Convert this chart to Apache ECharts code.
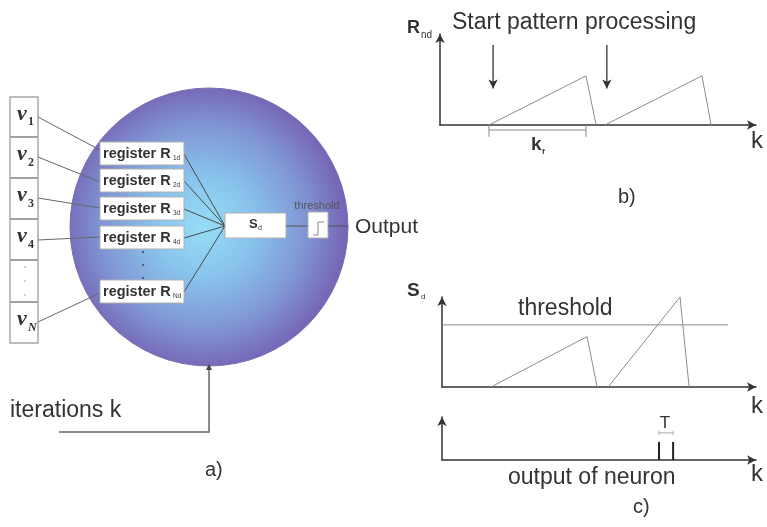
<!DOCTYPE html>
<html><head><meta charset="utf-8">
<script src="https://cdn.jsdelivr.net/npm/echarts@6/dist/echarts.min.js"></script>
<style>html,body{margin:0;padding:0;background:#fff}#c{width:767px;height:527px}</style>
</head><body><div id="c"></div>
<script>
// ---- data ----
const vSubs = ['1', '2', '3', '4', '', 'N'];
const regSubs = ['1d', '2d', '3d', '4d', 'Nd'];
// panel b) register value R_nd over iterations k
const bSawA = [[15.5, 0], [46.2, 5.4], [49.4, 0]];
const bSawB = [[52.2, 0], [82.9, 5.4], [85.8, 0]];
const bStartArrowsK = [16.8, 52.8];
const bArrowFromTo = [8.8, 4.0];
const kfRange = [15.5, 46.2];
// panel c) sum S_d over iterations k
const cSawA = [[15.6, 0], [46.2, 5.6], [49.4, 0]];
const cSawB = [[52.9, 0], [75.8, 10], [78.7, 0]];
const thresholdLevel = 6.9;
const thresholdEndK = 91.1;
// output of neuron
const pulsesK = [69.1, 73.6];
const pulseHeight = 4.2;
const tBracketLevel = 6.3;

const FONT = 'Liberation Sans, Arial, sans-serif';
const TXT = '#333';
const chart = echarts.init(document.getElementById('c'));

function txt(x, y, text, size, o) {
  o = o || {};
  return { type: 'text', x: x, y: y, z: 20, style: {
    text: text, fontSize: size, fontFamily: o.family || FONT, fontWeight: o.weight || 'normal',
    fontStyle: o.style || 'normal', fill: o.fill || TXT, align: o.align || 'left', verticalAlign: 'middle' } };
}
function line(pts, o) {
  o = o || {};
  return { type: 'polyline', z: o.z || 10, shape: { points: pts }, style: { stroke: o.stroke || '#555', lineWidth: o.w || 1, fill: null } };
}
function rect(x, y, w, h, o) {
  o = o || {};
  return { type: 'rect', z: 10, shape: { x: x, y: y, width: w, height: h }, style: { fill: '#fff', stroke: o.stroke || '#a0a0a0', lineWidth: o.w || 1 } };
}

const g = [];
// neuron circle
g.push({ type: 'circle', z: 1, shape: { cx: 209, cy: 227, r: 139 }, style: {
  fill: { type: 'radial', x: 0.48, y: 0.5, r: 0.52, colorStops: [
    { offset: 0, color: '#97ddf6' }, { offset: 0.35, color: '#88c3ec' },
    { offset: 0.7, color: '#8096d4' }, { offset: 1, color: '#7563b4' }] },
  stroke: '#7a6cb0', lineWidth: 1 } });
// input column
g.push(rect(10, 97, 28, 246, { stroke: '#a8a8a8', w: 1.5 }));
const cellTops = [97, 137, 178, 219, 260, 302, 343];
for (let i = 1; i < 6; i++) g.push(line([[10, cellTops[i]], [38, cellTops[i]]], { stroke: '#a0a0a0', w: 2, z: 11 }));
vSubs.forEach((s, i) => {
  const cy = (cellTops[i] + cellTops[i + 1]) / 2;
  if (s === '') {
    [-14, 0, 14].forEach(d => g.push({ type: 'circle', z: 12, shape: { cx: 25, cy: cy + d, r: 0.8 }, style: { fill: '#999' } }));
  } else {
    g.push(txt(17, cy - 3, 'v', 22, { family: 'Liberation Serif, Times New Roman, serif', style: 'italic', weight: 'bold' }));
    g.push(txt(28, cy + 5, s, 12, { family: 'Liberation Serif, Times New Roman, serif', style: s === 'N' ? 'italic' : 'normal', weight: 'bold' }));
  }
});
// registers
const regTops = [142, 169, 197, 226, 280];
const vLineY = [117, 157, 198, 240, 322];
const regInY = [150, 182, 208, 237, 293];
regTops.forEach((t, i) => {
  g.push(line([[38, vLineY[i]], [100, regInY[i]]], { stroke: '#666' }));
  g.push(line([[184, t + 12], [225, 226]], { stroke: '#4a4a4a' }));
  g.push(rect(100, t, 84, 23, { stroke: '#b0b0b0' }));
  g.push(txt(103, t + 11.5, 'register R', 14.5, { weight: 'bold' }));
  g.push(txt(173, t + 16, regSubs[i], 6.5));
});
[252, 265, 278].forEach(y => g.push({ type: 'circle', z: 12, shape: { cx: 143, cy: y, r: 0.9 }, style: { fill: '#333' } }));
// S_d box, threshold, output
g.push(rect(225, 213, 61, 25, { stroke: '#b0b0b0' }));
g.push(txt(249, 224, 'S', 13, { weight: 'bold' }));
g.push(txt(258, 228, 'd', 7));
g.push(line([[286, 226], [308, 226]], { stroke: '#555' }));
g.push(rect(308, 212, 20, 26, { stroke: '#b0b0b0' }));
g.push(line([[313, 235], [318, 235], [318, 222], [324, 222]], { stroke: '#888', z: 12 }));
g.push(line([[328, 226], [348, 226]], { stroke: '#555' }));
g.push(txt(317, 206, 'threshold', 11, { align: 'center', fill: '#555' }));
g.push(txt(355, 227, 'Output', 21));
// iterations arrow
g.push(line([[59, 432], [209, 432], [209, 369]], { stroke: '#666', w: 1.5 }));
g.push({ type: 'polygon', z: 12, shape: { points: [[209, 364], [206, 370], [212, 370]] }, style: { fill: '#444' } });
g.push(txt(10, 411, 'iterations k', 23));
g.push(txt(205, 470, 'a)', 20));
// panel b labels
g.push(txt(407, 28, 'R', 18, { weight: 'bold' }));
g.push(txt(421, 35, 'nd', 10));
g.push(txt(452, 23, 'Start pattern processing', 23));
g.push(txt(531, 145, 'k', 19, { weight: 'bold' }));
g.push(txt(542, 152, 'f', 8, { weight: 'bold' }));
g.push(txt(751, 141, 'k', 24));
g.push(txt(618, 197, 'b)', 20));
// panel c labels
g.push(txt(407, 291, 'S', 19, { weight: 'bold' }));
g.push(txt(421, 297, 'd', 8));
g.push(txt(518, 309, 'threshold', 23));
g.push(txt(751, 406, 'k', 24));
g.push(txt(665, 423, 'T', 17, { align: 'center' }));
g.push(txt(508, 478, 'output of neuron', 23));
g.push(txt(751, 474, 'k', 24));
g.push(txt(633, 507, 'c)', 20));

function axisPair(idx) {
  const al = { show: true, onZero: false, symbol: ['none', 'arrow'], symbolSize: [7, 9], lineStyle: { color: '#333', width: 1.5 } };
  return {
    x: { type: 'value', gridIndex: idx, min: 0, max: 100, axisLine: al, axisTick: { show: false }, axisLabel: { show: false }, splitLine: { show: false } },
    y: { type: 'value', gridIndex: idx, min: 0, max: 10, axisLine: al, axisTick: { show: false }, axisLabel: { show: false }, splitLine: { show: false } }
  };
}
const axes = [0, 1, 2].map(axisPair);
function ser(idx, data, color, width, extra) {
  return Object.assign({ type: 'line', xAxisIndex: idx, yAxisIndex: idx, data: data, symbol: 'none', clip: false, silent: true,
    lineStyle: { color: color, width: width }, animation: false }, extra || {});
}
const series = [];
series.push(ser(0, bSawA, '#8c8c8c', 1));
series.push(ser(0, bSawB, '#8c8c8c', 1));
bStartArrowsK.forEach(k => series.push(ser(0, [[k, bArrowFromTo[0]], { value: [k, bArrowFromTo[1]], symbol: 'arrow', symbolSize: [7, 9], symbolRotate: 180 }], '#333', 1.3,
  { showSymbol: true, itemStyle: { color: '#333' } })));
series.push(ser(0, [[kfRange[0], -0.55], [kfRange[1], -0.55]], '#888', 1));
kfRange.forEach(k => series.push(ser(0, [[k, 0], [k, -1.3]], '#888', 1)));
series.push(ser(1, [[0, thresholdLevel], [thresholdEndK, thresholdLevel]], '#8c8c8c', 1));
series.push(ser(1, cSawA, '#8c8c8c', 1));
series.push(ser(1, cSawB, '#8c8c8c', 1));
pulsesK.forEach(k => series.push(ser(2, [[k, 0], [k, pulseHeight]], '#222', 2)));
series.push(ser(2, [[pulsesK[0], tBracketLevel], [pulsesK[1], tBracketLevel]], '#aaa', 1));
pulsesK.forEach(k => series.push(ser(2, [[k, tBracketLevel - 0.5], [k, tBracketLevel + 0.5]], '#aaa', 1)));

chart.setOption({
  animation: false,
  grid: [
    { left: 440, top: 34, width: 316, height: 91 },
    { left: 442, top: 297, width: 314, height: 90 },
    { left: 442, top: 417, width: 314, height: 43 }
  ],
  xAxis: axes.map(a => a.x),
  yAxis: axes.map(a => a.y),
  series: series,
  graphic: g
});
</script></body></html>
